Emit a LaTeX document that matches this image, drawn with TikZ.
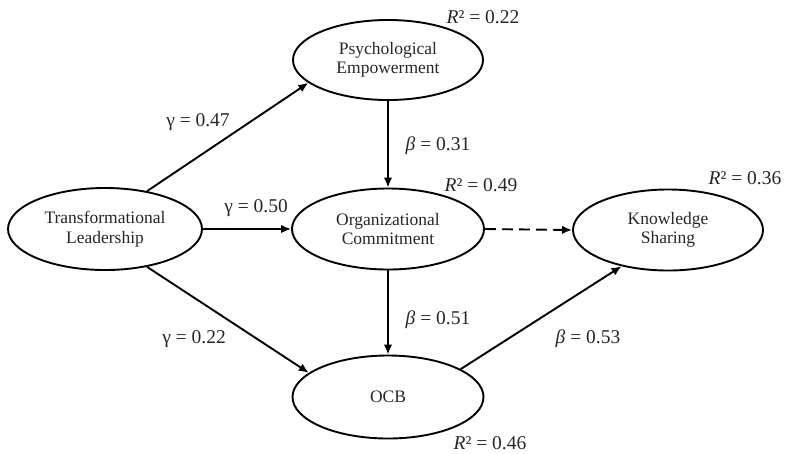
\documentclass[tikz,border=0pt]{standalone}
\usepackage{fontspec}
\setmainfont{Liberation Serif}
\usetikzlibrary{shapes.geometric,arrows.meta}
\begin{document}
\begin{tikzpicture}[x=1pt,y=-1pt,
  construct/.style={ellipse,draw,line width=1.9pt,inner sep=0pt,align=center,
    font=\fontsize{17.5}{19.5}\selectfont,text=black!85},
  path/.style={line width=1.9pt,-{Latex[length=10pt,width=8.5pt]}},
  lbl/.style={font=\fontsize{19.5}{21}\selectfont,text=black!85,inner sep=0pt}]
\useasboundingbox (0,0) rectangle (786,453);
\node[construct,minimum width=194pt,minimum height=82pt] (TL) at (105,229) {Transformational\\Leadership};
\node[construct,minimum width=190pt,minimum height=80pt] (PE) at (388,60) {Psychological\\Empowerment};
\node[construct,minimum width=192pt,minimum height=81pt] (OC) at (388,229) {Organizational\\Commitment};
\node[construct,minimum width=190pt,minimum height=81pt] (KS) at (668,230) {Knowledge\\Sharing};
\node[construct,minimum width=191pt,minimum height=83pt] (OCB) at (388,397) {OCB};
\draw[path] (TL.42) -- (PE.196);
\draw[path] (TL.east) -- (OC.west);
\draw[path] (TL.318) -- (OCB.163);
\draw[path] (PE.south) -- (OC.north);
\draw[path] (OC.south) -- (OCB.north);
\draw[path,dash pattern=on 11pt off 6pt] (OC.east) -- (KS.west);
\draw[path] (OCB.21) -- (KS.218);
\node[lbl] (g1) at (198,122) {γ = 0.47};
\node[lbl] (g2) at (256,208) {γ = 0.50};
\node[lbl] (g3) at (194,339) {γ = 0.22};
\node[lbl] (b1) at (438,146) {\textit{β} = 0.31};
\node[lbl] (b2) at (438,320) {\textit{β} = 0.51};
\node[lbl] (b3) at (588,339) {\textit{β} = 0.53};
\node[lbl] (r1) at (483,17) {\textit{R}² = 0.22};
\node[lbl] (r2) at (481,185) {\textit{R}² = 0.49};
\node[lbl] (r3) at (745,178) {\textit{R}² = 0.36};
\node[lbl] (r4) at (490,443) {\textit{R}² = 0.46};
\end{tikzpicture}
\end{document}
